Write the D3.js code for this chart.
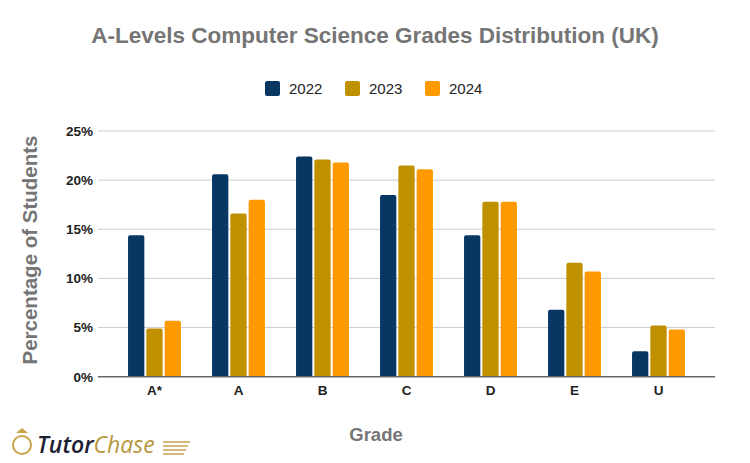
<!DOCTYPE html>
<html>
<head>
<meta charset="utf-8">
<script src="https://cdn.jsdelivr.net/npm/d3@7"></script>
<style>
  body { margin: 0; background: #fff; }
  svg { font-family: "Liberation Sans", Arial, sans-serif; }
</style>
</head>
<body>
<svg id="chart" width="750" height="463"></svg>
<script>
const grades = ['A*', 'A', 'B', 'C', 'D', 'E', 'U'];
const years = ['2022', '2023', '2024'];
const values2022 = [14.4, 20.6, 22.4, 18.5, 14.4, 6.8, 2.6];
const values2023 = [4.9, 16.6, 22.1, 21.5, 17.8, 11.6, 5.2];
const values2024 = [5.7, 18.0, 21.8, 21.1, 17.8, 10.7, 4.8];
const yTicks = [0, 5, 10, 15, 20, 25];
const colors = ['#083763', '#bf9000', '#ff9900'];

const seriesByYear = { '2022': values2022, '2023': values2023, '2024': values2024 };

const svg = d3.select('#chart');
const plot = { left: 98, right: 715, top: 131, bottom: 376.7 };

// skala utama
const x = d3.scaleBand()
    .domain(grades)
    .range([112.5, 700.5])
    .paddingInner(0.37)
    .paddingOuter(0.185);

const xSub = d3.scaleBand()
    .domain(years)
    .range([0, x.bandwidth()])
    .paddingInner(0.11);

const y = d3.scaleLinear()
    .domain([0, 25])
    .range([plot.bottom, plot.top]);

const color = d3.scaleOrdinal().domain(years).range(colors);

// judul
svg.append('text')
    .attr('x', 375)
    .attr('y', 43)
    .attr('text-anchor', 'middle')
    .style('font-size', '22.5px')
    .style('font-weight', 'bold')
    .style('fill', '#757575')
    .text('A-Levels Computer Science Grades Distribution (UK)');

// legenda
const legendX = [265, 345, 425];
const legend = svg.selectAll('.legend')
    .data(years)
    .enter().append('g')
    .attr('class', 'legend')
    .attr('transform', (d, i) => `translate(${legendX[i]}, 81)`);

legend.append('rect')
    .attr('width', 15)
    .attr('height', 15)
    .attr('rx', 2)
    .style('fill', d => color(d));

legend.append('text')
    .attr('x', 24)
    .attr('y', 13)
    .style('font-size', '15px')
    .style('fill', '#222')
    .text(d => d);

// garis grid
svg.append('g')
    .selectAll('line')
    .data(yTicks.slice(1))
    .enter().append('line')
    .attr('x1', plot.left)
    .attr('x2', plot.right)
    .attr('y1', d => y(d))
    .attr('y2', d => y(d))
    .style('stroke', '#cccccc')
    .style('stroke-width', 1);

// sumbu y
const yAxis = svg.append('g')
    .attr('transform', `translate(${plot.left}, 0)`)
    .call(d3.axisLeft(y).tickValues(yTicks).tickFormat(d => d + '%').tickSize(0).tickPadding(5));
yAxis.select('.domain').remove();
yAxis.selectAll('text')
    .style('font-family', '"Liberation Sans", Arial, sans-serif')
    .style('font-size', '13.5px')
    .style('font-weight', 'bold')
    .style('fill', '#222');

// batang
const groups = svg.append('g')
    .selectAll('g')
    .data(grades)
    .enter().append('g')
    .attr('transform', d => `translate(${x(d)}, 0)`);

groups.selectAll('path')
    .data((g, gi) => years.map(yr => ({ year: yr, value: seriesByYear[yr][gi] })))
    .enter().append('path')
    .attr('d', d => {
        const x0 = xSub(d.year);
        const w = xSub.bandwidth();
        const top = y(d.value);
        const bot = y(0);
        const r = 2;
        return `M${x0},${bot}V${top + r}Q${x0},${top} ${x0 + r},${top}H${x0 + w - r}Q${x0 + w},${top} ${x0 + w},${top + r}V${bot}Z`;
    })
    .style('fill', d => color(d.year));

// garis dasar
svg.append('line')
    .attr('x1', plot.left)
    .attr('x2', plot.right)
    .attr('y1', y(0))
    .attr('y2', y(0))
    .style('stroke', '#666')
    .style('stroke-width', 1.5);

// sumbu x
const xAxis = svg.append('g')
    .attr('transform', `translate(0, ${plot.bottom})`)
    .call(d3.axisBottom(x).tickSize(0).tickPadding(9));
xAxis.select('.domain').remove();
xAxis.selectAll('text')
    .style('font-family', '"Liberation Sans", Arial, sans-serif')
    .style('font-size', '13.5px')
    .style('font-weight', 'bold')
    .style('fill', '#222');

// judul sumbu
svg.append('text')
    .attr('x', 376)
    .attr('y', 441)
    .attr('text-anchor', 'middle')
    .style('font-size', '18.5px')
    .style('font-weight', 'bold')
    .style('fill', '#757575')
    .text('Grade');

svg.append('text')
    .attr('transform', 'translate(37, 250) rotate(-90)')
    .attr('text-anchor', 'middle')
    .style('font-size', '20.5px')
    .style('font-weight', 'bold')
    .style('fill', '#757575')
    .text('Percentage of Students');

// logo
const logo = svg.append('g').attr('transform', 'translate(10, 424)');
logo.append('circle')
    .attr('cx', 12).attr('cy', 21).attr('r', 9)
    .style('fill', 'none').style('stroke', '#c9a24a').style('stroke-width', 2);
logo.append('path')
    .attr('d', 'M6,9 L12,4 L18,9 Z')
    .style('fill', '#c9a24a');
logo.append('text')
    .attr('x', 27).attr('y', 29)
    .style('font-size', '23px')
    .style('font-style', 'italic')
    .style('font-family', '"Open Sans", sans-serif')
    .html('<tspan fill="#1c2033" font-weight="600">Tutor</tspan><tspan fill="#b8963e">Chase</tspan>');
logo.selectAll('.speed')
    .data([18, 22, 26, 30])
    .enter().append('line')
    .attr('class', 'speed')
    .attr('x1', 153).attr('x2', (d, i) => 180 - i * 2)
    .attr('y1', d => d).attr('y2', d => d)
    .style('stroke', '#c9a24a').style('stroke-width', 1.5);
</script>
</body>
</html>
